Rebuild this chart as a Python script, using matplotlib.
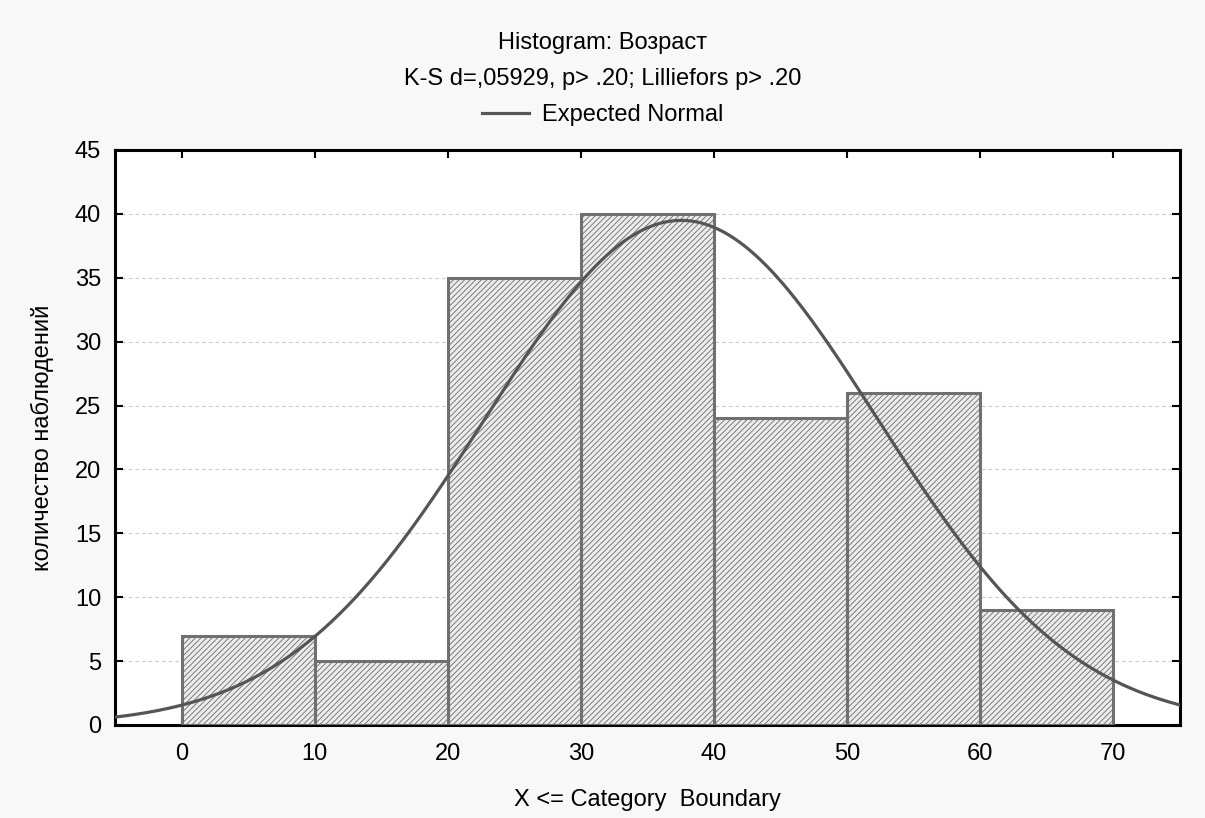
import numpy as np
import matplotlib.pyplot as plt

# Age histogram: category upper boundaries and counts per category
bin_edges = [0, 10, 20, 30, 40, 50, 60, 70]
counts = [7, 5, 35, 40, 24, 26, 9]
x_ticks = [0, 10, 20, 30, 40, 50, 60, 70]
y_ticks = [0, 5, 10, 15, 20, 25, 30, 35, 40, 45]

plt.rcParams['font.family'] = ['Liberation Sans', 'DejaVu Sans']
plt.rcParams['hatch.linewidth'] = 0.6

fig = plt.figure(figsize=(12.05, 8.18), dpi=100, facecolor='#f8f8f8')
ax = fig.add_axes([0.0954, 0.1137, 0.8838, 0.703])
ax.set_facecolor('white')

edges = np.array(bin_edges, dtype=float)
cnt = np.array(counts, dtype=float)
widths = np.diff(edges)
mids = edges[:-1] + widths / 2

# hatched fill, then the gray outlines on top
ax.bar(edges[:-1], cnt, width=widths, align='edge', color='#ececec',
       edgecolor='#6a6a6a', hatch='//////', linewidth=0, zorder=2)
ax.bar(edges[:-1], cnt, width=widths, align='edge', fill=False,
       edgecolor='#707070', linewidth=2.2, zorder=3)

# expected normal curve from the grouped data
n = cnt.sum()
mu = (cnt * mids).sum() / n
sd = np.sqrt((cnt * (mids - mu) ** 2).sum() / n)
xs = np.linspace(-5, 75, 400)
ys = n * widths[0] * np.exp(-0.5 * ((xs - mu) / sd) ** 2) / (sd * np.sqrt(2 * np.pi))
line, = ax.plot(xs, ys, color='#555555', linewidth=2.3, zorder=4)

ax.set_xlim(-5, 75)
ax.set_ylim(0, 45)
ax.set_xticks(x_ticks)
ax.set_yticks(y_ticks)
ax.tick_params(direction='in', top=True, right=True, length=6, width=1.5,
               labelsize=17, colors='black')
ax.tick_params(axis='x', pad=13)
ax.tick_params(axis='y', pad=10)
for s in ax.spines.values():
    s.set_linewidth(2.2)
    s.set_color('black')
ax.yaxis.grid(True, linestyle=(0, (3, 3)), color='#c8c8c8', linewidth=0.8, zorder=1)

ax.set_xlabel('X <= Category  Boundary', fontsize=17, labelpad=17)
ax.set_ylabel('количество наблюдений', fontsize=17, labelpad=15)

fig.text(0.5, 0.948, 'Histogram: Возраст', ha='center', va='center', fontsize=17)
fig.text(0.5, 0.903, 'K-S d=,05929, p> .20; Lilliefors p> .20', ha='center', va='center', fontsize=17)
fig.legend([line], ['Expected Normal'], loc='center', bbox_to_anchor=(0.5, 0.859),
           frameon=False, fontsize=17, handlelength=2.0, handletextpad=0.55)

fig.savefig('out.png', dpi=100, facecolor=fig.get_facecolor())
